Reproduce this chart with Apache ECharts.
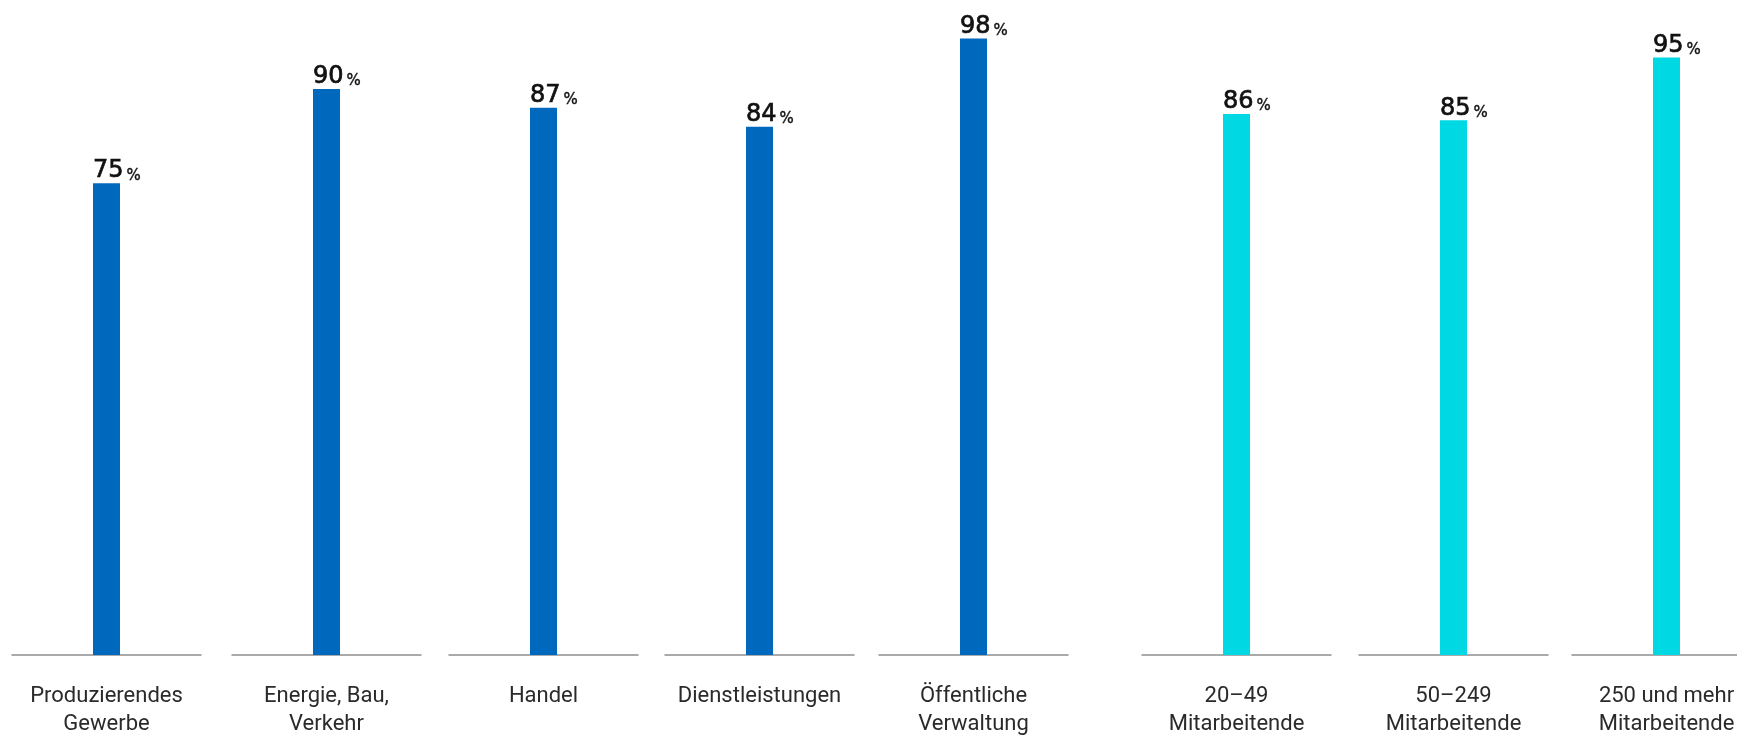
<!DOCTYPE html>
<html>
<head>
<meta charset="utf-8">
<title>Anteil nach Branche und Unternehmensgröße</title>
<script src="https://cdn.jsdelivr.net/npm/echarts@6/dist/echarts.min.js"></script>
<style>
  html, body { margin: 0; padding: 0; background: #fff; }
  #chart { width: 1737px; height: 737px; }
</style>
</head>
<body>
<div id="chart"></div>
<script>
// Kategorien (Branchen, dann Unternehmensgrößen)
const categories = [
  'Produzierendes\nGewerbe',
  'Energie, Bau,\nVerkehr',
  'Handel',
  'Dienstleistungen',
  'Öffentliche\nVerwaltung',
  '20–49\nMitarbeitende',
  '50–249\nMitarbeitende',
  '250 und mehr\nMitarbeitende'
];
// Anteil in Prozent
const shares = [75, 90, 87, 84, 98, 86, 85, 95];
// Gruppe je Kategorie: 0 = Branche, 1 = Größe
const groupIndex = [0, 0, 0, 0, 0, 1, 1, 1];

// Layout der einzelnen Felder (linker Rand in px)
const panelLeft = [12, 232, 449, 665, 879, 1142, 1359, 1572];
const panelWidth = 189;
const groupColors = ['#0069BE', '#00D9E4'];

const grids = [], xAxes = [], yAxes = [], series = [];
categories.forEach((cat, i) => {
  grids.push({
    left: panelLeft[i], width: panelWidth, top: 26, bottom: 82,
    containLabel: false,
    outerBoundsMode: 'none'
  });
  xAxes.push({
    type: 'category',
    gridIndex: i,
    data: [cat],
    axisLine: { show: true, lineStyle: { color: '#8f8f8f', width: 1.5 } },
    axisTick: { show: false },
    axisLabel: {
      interval: 0,
      margin: 27,
      fontFamily: 'Roboto',
      fontSize: 22,
      lineHeight: 28,
      color: '#2a2a2a',
      verticalAlign: 'top',
      hideOverlap: false
    }
  });
  yAxes.push({ type: 'value', gridIndex: i, min: 0, max: 100, show: false, splitLine: { show: false } });
  series.push({
    type: 'bar',
    xAxisIndex: i,
    yAxisIndex: i,
    data: [shares[i]],
    barWidth: 27,
    itemStyle: { color: groupColors[groupIndex[i]] },
    label: {
      show: true,
      position: 'top',
      distance: 0,
      align: 'left',
      offset: [-13.5, 0],
      formatter: p => '{v|' + p.value + '}{u|%}',
      rich: {
        v: {
          fontFamily: 'DejaVu Sans', fontSize: 24, lineHeight: 24, color: '#111',
          textBorderColor: '#111', textBorderWidth: 0.7
        },
        u: {
          fontFamily: 'DejaVu Sans', fontSize: 15, lineHeight: 22, verticalAlign: 'bottom', color: '#111',
          textBorderColor: '#111', textBorderWidth: 0.4, padding: [0, 0, 0, 3]
        }
      }
    }
  });
});

const chart = echarts.init(document.getElementById('chart'), null, { renderer: 'canvas' });
chart.setOption({
  animation: false,
  backgroundColor: '#fff',
  grid: grids,
  xAxis: xAxes,
  yAxis: yAxes,
  series: series
});
</script>
</body>
</html>
